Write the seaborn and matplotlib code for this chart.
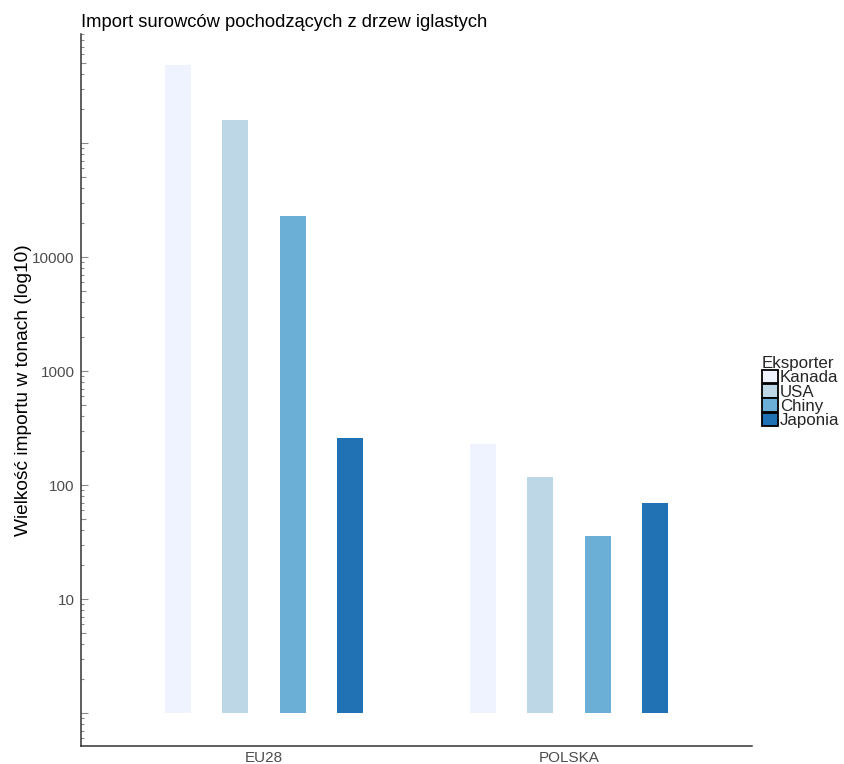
import numpy as np
import pandas as pd
import matplotlib
matplotlib.use("Agg")
import matplotlib.pyplot as plt
from matplotlib.patches import Patch
import seaborn as sns

# ---- data ----
regions = ["EU28", "POLSKA"]
exporters = ["Kanada", "USA", "Chiny", "Japonia"]
eu28_values = [482000, 158500, 22700, 259]
polska_values = [227, 117, 35.5, 69.8]
colors = ["#EFF3FF", "#BDD7E7", "#6BAED6", "#2171B5"]
ytick_values = [10, 100, 1000, 10000]
ytick_labels = ["10", "100", "1000", "10000"]

df = pd.DataFrame({
    "Region": np.repeat(regions, len(exporters)),
    "Eksporter": exporters * len(regions),
    "Tony": eu28_values + polska_values,
})
df["log10"] = np.log10(df["Tony"])

sns.set_theme(style="white")
plt.rcParams["font.family"] = ["Liberation Sans", "DejaVu Sans"]

fig = plt.figure(figsize=(8.45, 7.64), dpi=100)
ax = fig.add_axes([81 / 845, (764 - 745.5) / 764, (752 - 81) / 845, (745.5 - 34) / 764])

sns.barplot(data=df, x="Region", y="log10", hue="Eksporter", order=regions,
            hue_order=exporters, palette=colors, width=0.75, gap=0.545,
            legend=False, ax=ax, saturation=1, linewidth=0)

ax.set_xlim(-0.6, 1.6)
ax.set_ylim(-0.285, 5.957)
ax.set_yticks(np.log10(ytick_values))
ax.set_yticklabels(ytick_labels)

for s in ["top", "right"]:
    ax.spines[s].set_visible(False)
for s in ["left", "bottom"]:
    ax.spines[s].set_color("#333333")
    ax.spines[s].set_linewidth(1.1)

ax.tick_params(axis="both", which="major", direction="out", length=3, width=0.8,
               color="#777777", labelsize=11, labelcolor="#4D4D4D", pad=1.5)
ax.tick_params(axis="x", pad=1)

# log ticks on the inside of the y axis (like annotation_logticks)
trans = ax.get_yaxis_transform()
axw = 671.0
for dec in range(-1, 6):
    for m in range(1, 10):
        v = np.log10(m) + dec
        if v < -0.285 or v > 5.957:
            continue
        L = 7.5 if m == 1 else (5.0 if m == 5 else 3.0)
        ax.plot([0, L / axw], [v, v], transform=trans, color="#8a8a8a",
                lw=0.8, clip_on=False, solid_capstyle="butt")

ax.set_xlabel("")
ax.set_ylabel("Wielkość importu w tonach (log10)", fontsize=13.8, color="black", labelpad=0.5)
ax.set_title("Import surowców pochodzących z drzew iglastych", fontsize=13.2,
             loc="left", color="black", pad=5)

handles = [Patch(facecolor=c, edgecolor="black", linewidth=1.3) for c in colors]
leg = fig.legend(handles, exporters, title="Eksporter", loc="upper left",
                 bbox_to_anchor=(762 / 845, (764 - 356) / 764), frameon=False,
                 fontsize=12.2, title_fontsize=12.2, handlelength=0.95, handleheight=0.87,
                 labelspacing=-0.08, handletextpad=0.1, borderpad=0, borderaxespad=0,
                 alignment="left")

fig.savefig("out.png", dpi=100, facecolor="white")
